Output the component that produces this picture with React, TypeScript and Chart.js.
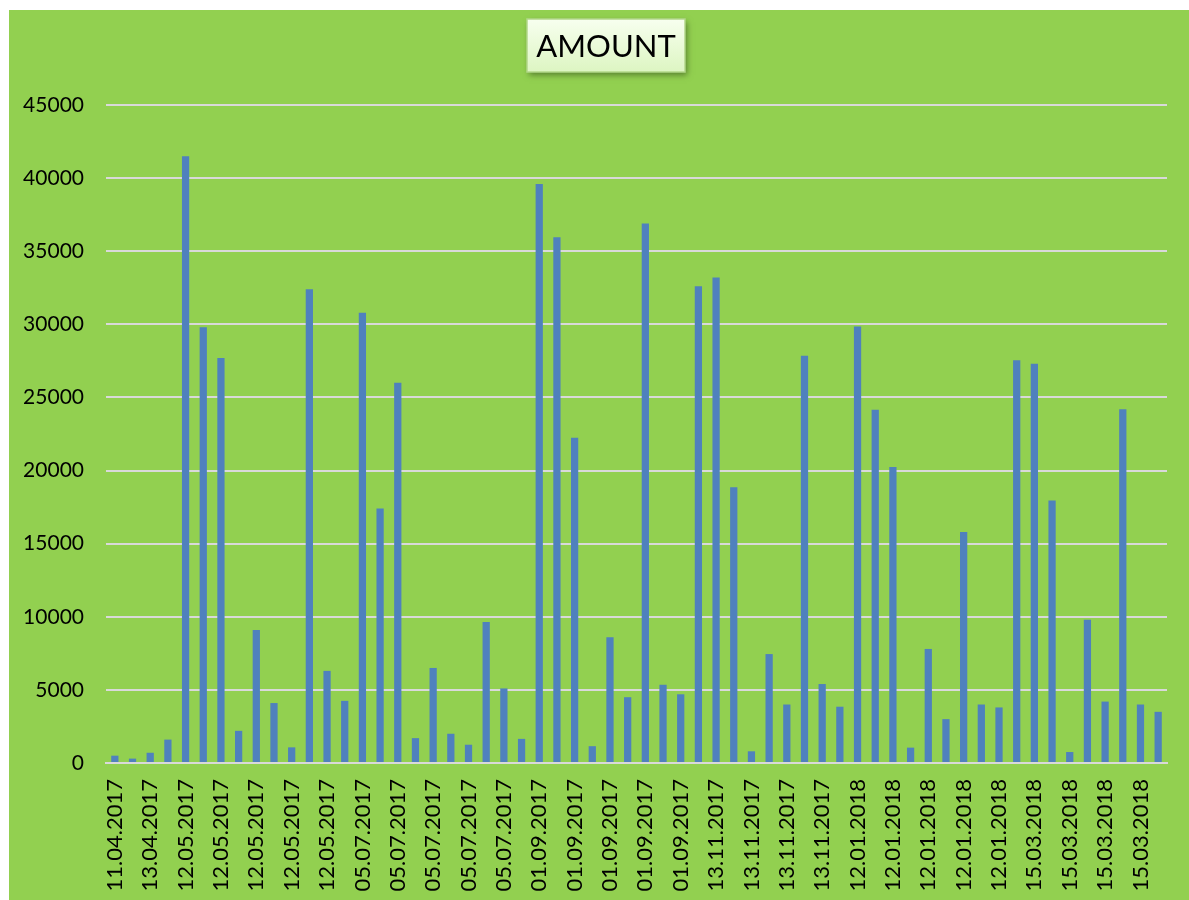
import React, { useEffect, useRef } from "react";
import { Chart, registerables } from "chart.js";

Chart.register(...registerables);

const dates: string[] = [
  "11.04.2017", "11.04.2017", "13.04.2017", "13.04.2017", "12.05.2017", "12.05.2017",
  "12.05.2017", "12.05.2017", "12.05.2017", "12.05.2017", "12.05.2017", "12.05.2017",
  "12.05.2017", "12.05.2017", "05.07.2017", "05.07.2017", "05.07.2017", "05.07.2017",
  "05.07.2017", "05.07.2017", "05.07.2017", "05.07.2017", "05.07.2017", "05.07.2017",
  "01.09.2017", "01.09.2017", "01.09.2017", "01.09.2017", "01.09.2017", "01.09.2017",
  "01.09.2017", "01.09.2017", "01.09.2017", "01.09.2017", "13.11.2017", "13.11.2017",
  "13.11.2017", "13.11.2017", "13.11.2017", "13.11.2017", "13.11.2017", "13.11.2017",
  "12.01.2018", "12.01.2018", "12.01.2018", "12.01.2018", "12.01.2018", "12.01.2018",
  "12.01.2018", "12.01.2018", "12.01.2018", "12.01.2018", "15.03.2018", "15.03.2018",
  "15.03.2018", "15.03.2018", "15.03.2018", "15.03.2018", "15.03.2018", "15.03.2018",
];

const amounts: number[] = [
  500, 300, 700, 1600, 41500, 29800, 27700, 2200, 9100, 4100,
  1070, 32400, 6300, 4250, 30800, 17400, 26000, 1700, 6500, 2000,
  1250, 9650, 5100, 1650, 39600, 35950, 22250, 1150, 8600, 4500,
  36900, 5350, 4700, 32600, 33200, 18850, 800, 7450, 4000, 27850,
  5400, 3850, 29850, 24150, 20250, 1050, 7800, 3000, 15800, 4000,
  3800, 27550, 27300, 17950, 750, 9800, 4200, 24200, 4000, 3500,
];

const titleText = "AMOUNT";
const yMax = 45000;
const yStep = 5000;

const FONT = "Lato, 'Open Sans', sans-serif";

const titleBoxPlugin = {
  id: "titleBox",
  afterDraw(chart: any) {
    const ctx = chart.ctx as CanvasRenderingContext2D;
    const cx = 597;
    const w = 158;
    const h = 53;
    const x = cx - w / 2;
    const y = 9;
    ctx.save();
    ctx.shadowColor = "rgba(40,60,20,0.55)";
    ctx.shadowBlur = 6;
    ctx.shadowOffsetX = 2;
    ctx.shadowOffsetY = 3;
    const g = ctx.createLinearGradient(0, y, 0, y + h);
    g.addColorStop(0, "#F7FFEF");
    g.addColorStop(1, "#DDF5C2");
    ctx.fillStyle = g;
    ctx.fillRect(x, y, w, h);
    ctx.shadowColor = "transparent";
    ctx.strokeStyle = "#B3D88A";
    ctx.lineWidth = 1.5;
    ctx.strokeRect(x, y, w, h);
    ctx.fillStyle = "#000";
    ctx.font = `31px ${FONT}`;
    ctx.textAlign = "center";
    ctx.textBaseline = "middle";
    ctx.fillText(titleText, cx, y + h / 2 + 1);
    ctx.restore();
  },
};

export default function App() {
  const ref = useRef<HTMLCanvasElement | null>(null);

  useEffect(() => {
    if (!ref.current) return;
    const chart = new Chart(ref.current, {
      type: "bar",
      data: {
        labels: dates,
        datasets: [
          {
            label: titleText,
            data: amounts,
            backgroundColor: "#4F81BD",
            borderWidth: 0,
            barPercentage: 0.41,
            categoryPercentage: 1,
          },
        ],
      },
      options: {
        animation: false,
        responsive: false,
        maintainAspectRatio: false,
        layout: { padding: { top: 95, left: 0, right: 22, bottom: 0 } },
        plugins: {
          legend: { display: false },
          title: { display: false },
          tooltip: { enabled: false },
        },
        scales: {
          x: {
            grid: { display: false, drawTicks: false },
            border: { display: true, color: "#D9D9D9", width: 2 },
            ticks: {
              autoSkip: false,
              minRotation: 90,
              maxRotation: 90,
              padding: 16,
              color: "#000",
              font: { family: FONT, size: 22 },
              callback: (_v: any, i: number) => (i % 2 === 0 ? dates[i] : ""),
            },
            afterFit: (s: any) => {
              s.height = 137;
              s.paddingLeft = 0;
              s.paddingRight = 0;
            },
          },
          y: {
            min: 0,
            max: yMax,
            ticks: {
              stepSize: yStep,
              padding: 22,
              color: "#000",
              font: { family: FONT, size: 21 },
              callback: (v: any) => String(v),
            },
            grid: { color: "#D9D9D9", lineWidth: 2, drawTicks: false },
            border: { display: false },
            afterFit: (s: any) => {
              s.width = 97;
              s.paddingTop = 0;
              s.paddingBottom = 0;
            },
          },
        },
      },
      plugins: [titleBoxPlugin],
    });
    return () => chart.destroy();
  }, []);

  return (
    <div
      style={{
        position: "fixed",
        left: 9,
        top: 10,
        width: 1180,
        height: 890,
        background: "#92D050",
      }}
    >
      <canvas ref={ref} width={1180} height={890} style={{ display: "block" }} />
    </div>
  );
}
